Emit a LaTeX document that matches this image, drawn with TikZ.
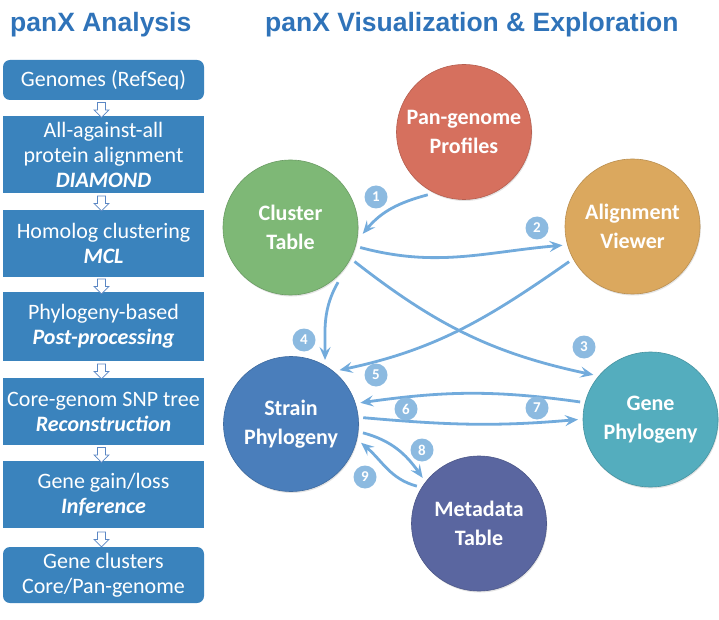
\documentclass[tikz,border=0pt]{standalone}
\usepackage{fontspec}
\setmainfont{Carlito}
\newfontfamily\titlefont{Liberation Sans}
\usetikzlibrary{arrows.meta,shapes.arrows,shadows,calc}
\definecolor{boxc}{HTML}{3A83BD}
\definecolor{titlec}{HTML}{2F73B9}
\definecolor{hollowc}{HTML}{5B87C4}
\definecolor{panc}{HTML}{D6705E}
\definecolor{alignc}{HTML}{DBA85E}
\definecolor{clusterc}{HTML}{7EB876}
\definecolor{strainc}{HTML}{4A7EBB}
\definecolor{genec}{HTML}{54ADBE}
\definecolor{metac}{HTML}{5A66A0}
\definecolor{arrowc}{HTML}{72ABDC}
\definecolor{badgec}{HTML}{8CBAE0}
\begin{document}
\begin{tikzpicture}[x=1pt,y=1pt,
  titlestyle/.style={anchor=base west, inner sep=0pt, text=titlec, font=\titlefont\bfseries\fontsize{26.5}{30}\selectfont},
  flowbox/.style={fill=boxc, text=white, minimum width=201pt, inner sep=2pt, align=center, font=\fontsize{22}{25}\selectfont},
  hollow/.style={single arrow, shape border rotate=270, minimum height=15pt, minimum width=15pt, single arrow head extend=3.5pt, inner sep=3.5pt, draw=hollowc, fill=white, line width=0.7pt},
  circ/.style={circle, minimum size=135pt, inner sep=0pt, outer sep=5pt, text=white, align=center, line width=0.6pt, font=\bfseries\fontsize{22}{29}\selectfont, drop shadow={opacity=0.22, shadow xshift=0.8pt, shadow yshift=-1.5pt}},
  badge/.style={circle, fill=badgec, minimum size=23pt, inner sep=0pt, text=white, font=\bfseries\fontsize{15}{15}\selectfont},
  arr/.style={draw=arrowc, line width=2.8pt, -{Stealth[length=13pt,width=11pt,inset=5pt]}}
]
\useasboundingbox (0,0) rectangle (719,619);

% titles
\node[titlestyle] (t1) at (10,587) {panX Analysis};
\node[titlestyle] (t2) at (265,587) {panX Visualization \& Exploration};

% left pipeline
\node[flowbox, minimum height=40pt, rounded corners=7pt] (b1) at (103.5,539) {Genomes (RefSeq)};
\node[flowbox, minimum height=77pt] (b2) at (103.5,464.5) {All-against-all\\protein alignment\\\textbf{\textit{DIAMOND}}};
\node[flowbox, minimum height=67pt] (b3) at (103.5,375.5) {Homolog clustering\\\textbf{\textit{MCL}}};
\node[flowbox, minimum height=69pt] (b4) at (103.5,292.5) {Phylogeny-based\\\textbf{\textit{Post-processing}}};
\node[flowbox, minimum height=67pt] (b5) at (103.5,207.5) {Core-genom SNP tree\\\textbf{\textit{Reconstruction}}};
\node[flowbox, minimum height=67pt] (b6) at (103.5,124.5) {Gene gain/loss\\\textbf{\textit{Inference}}};
\node[flowbox, minimum height=56pt, rounded corners=7pt] (b7) at (103.5,44) {Gene clusters\\Core/Pan-genome};

\node[hollow] (h1) at ($(b1.south)!0.5!(b2.north)+(-2,0)$) {};
\node[hollow] (h2) at ($(b2.south)!0.5!(b3.north)+(-2,0)$) {};
\node[hollow] (h3) at ($(b3.south)!0.5!(b4.north)+(-2,0)$) {};
\node[hollow] (h4) at ($(b4.south)!0.5!(b5.north)+(-2,0)$) {};
\node[hollow] (h5) at ($(b5.south)!0.5!(b6.north)+(-2,0)$) {};
\node[hollow] (h6) at ($(b6.south)!0.5!(b7.north)+(-2,0)$) {};

% circles
\node[circ, fill=panc, draw=panc!85!black] (pan) at (464,487) {Pan-genome\\Profiles};
\node[circ, fill=alignc, draw=alignc!85!black] (align) at (632.5,392.5) {Alignment\\Viewer};
\node[circ, fill=clusterc, draw=clusterc!85!black] (cluster) at (290.5,391.5) {Cluster\\Table};
\node[circ, fill=strainc, draw=strainc!85!black] (strain) at (291,195) {Strain\\Phylogeny};
\node[circ, fill=genec, draw=genec!85!black] (gene) at (650.5,199.5) {Gene\\Phylogeny};
\node[circ, fill=metac, draw=metac!85!black] (meta) at (479,95.5) {Metadata\\Table};

% connectors
\draw[arr] (pan.240) to[out=195,in=50] (cluster.355);
\draw[arr] (cluster.344) to[out=-15,in=185] (align.195);
\draw[arr] (cluster.332) to[out=-38,in=168] (gene.142);
\draw[arr] (cluster.311) to[out=240,in=90] (strain.62);
\draw[arr] (align.209) to[out=215,in=12] (strain.48);
\draw[arr] (gene.166) to[out=172,in=8] (strain.17);
\draw[arr] (strain.5) to[out=-5,in=185] (gene.180);
\draw[arr] (strain.-7) to[out=-15,in=125] (meta.141);
\draw[arr] (meta.149) to[out=165,in=-40] (strain.-15);

% badges
\node[badge] (n1) at (376,422) {1};
\node[badge] (n2) at (537,391) {2};
\node[badge] (n3) at (584,272) {3};
\node[badge] (n4) at (304,279) {4};
\node[badge] (n5) at (376,244) {5};
\node[badge] (n6) at (406,210) {6};
\node[badge] (n7) at (537,211) {7};
\node[badge] (n8) at (422,169) {8};
\node[badge] (n9) at (365,142) {9};
\end{tikzpicture}
\end{document}
